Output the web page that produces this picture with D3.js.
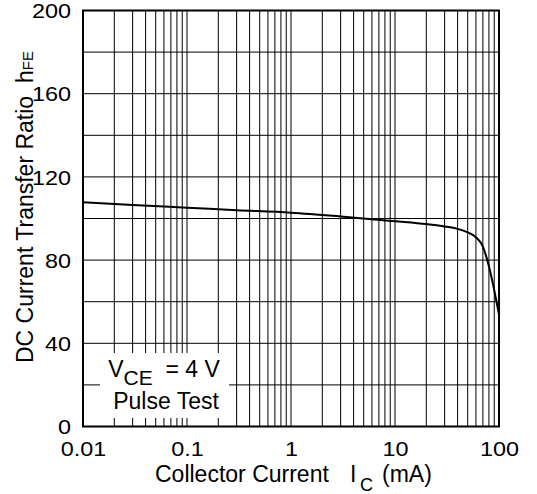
<!DOCTYPE html>
<html>
<head>
<meta charset="utf-8">
<script src="https://cdn.jsdelivr.net/npm/d3@7"></script>
<style>
  html, body { margin: 0; padding: 0; background: #fff; }
  text { font-family: "Liberation Sans", Arial, sans-serif; fill: #000; white-space: pre; }
</style>
</head>
<body>
<svg id="chart" width="537" height="494"></svg>
<script>
// Collector current (mA) and DC current transfer ratio hFE
const collectorCurrent = [0.01, 0.03, 0.1, 0.3, 1, 3, 10, 20, 30, 40, 50, 60, 70, 80, 90, 100];
const hfeValues        = [107.8, 106.5, 105.2, 104, 102.8, 101, 98.7, 97.3, 96.2, 95, 93.3, 91, 86.5, 77, 65.5, 53.8];

const xTickValues = [0.01, 0.1, 1, 10, 100];
const xTickLabels = ["0.01", "0.1", "1", "10", "100"];
const yTickValues = [0, 40, 80, 120, 160, 200];

const svg = d3.select("#chart");
const plot = { left: 83, right: 499, top: 10.5, bottom: 426.5 };

const x = d3.scaleLog().domain([0.01, 100]).range([plot.left, plot.right]);
const y = d3.scaleLinear().domain([0, 200]).range([plot.bottom, plot.top]);

// vertical grid: 1..9 in every decade
const xGrid = [];
for (let e = -2; e < 2; e++) {
  for (let m = 1; m <= 9; m++) xGrid.push(m * Math.pow(10, e));
}
const yGrid = d3.range(20, 200, 20);

const grid = svg.append("g").attr("stroke", "#000").attr("stroke-width", 1);
grid.selectAll("line.v").data(xGrid.filter(v => v > 0.01)).join("line")
  .attr("x1", d => x(d)).attr("x2", d => x(d))
  .attr("y1", plot.top).attr("y2", plot.bottom);
grid.selectAll("line.h").data(yGrid).join("line")
  .attr("x1", plot.left).attr("x2", plot.right)
  .attr("y1", d => y(d)).attr("y2", d => y(d));

// condition label box over the grid
const box = svg.append("g");
box.append("rect")
  .attr("x", 100).attr("y", 353).attr("width", 129).attr("height", 65)
  .attr("fill", "#fff");
const t1 = box.append("text").attr("x", 164).attr("y", 377)
  .attr("text-anchor", "middle").attr("font-size", 23);
t1.append("tspan").text("V");
t1.append("tspan").attr("dy", 8).attr("font-size", 21).text("CE");
t1.append("tspan").attr("dy", -8).text("  = 4 V");
box.append("text").attr("x", 166).attr("y", 409)
  .attr("text-anchor", "middle").attr("font-size", 23).text("Pulse Test");

// hFE curve
const line = d3.line()
  .x((d, i) => x(collectorCurrent[i]))
  .y(d => y(d))
  .curve(d3.curveMonotoneX);
svg.append("path").datum(hfeValues)
  .attr("d", line)
  .attr("fill", "none").attr("stroke", "#000").attr("stroke-width", 2);

// frame
svg.append("rect")
  .attr("x", plot.left).attr("y", plot.top)
  .attr("width", plot.right - plot.left).attr("height", plot.bottom - plot.top)
  .attr("fill", "none").attr("stroke", "#000").attr("stroke-width", 2);

// tick labels use wide digits: stretch glyphs horizontally
function widenDigits(sel) {
  sel.each(function () {
    const w = this.getComputedTextLength();
    d3.select(this).attr("textLength", w * 1.17).attr("lengthAdjust", "spacingAndGlyphs");
  });
}

// axes (labels only)
const xAxis = d3.axisBottom(x).tickValues(xTickValues)
  .tickFormat((d, i) => xTickLabels[i]).tickSize(0).tickPadding(15);
const gx = svg.append("g").attr("transform", `translate(0,${plot.bottom})`).call(xAxis);
gx.select(".domain").remove();
gx.selectAll("text").attr("font-size", 20).attr("font-family", null).call(widenDigits);

const yAxis = d3.axisLeft(y).tickValues(yTickValues).tickSize(0).tickPadding(12);
const gy = svg.append("g").attr("transform", `translate(${plot.left},0)`).call(yAxis);
gy.select(".domain").remove();
gy.selectAll("text").attr("font-size", 20).attr("font-family", null).attr("dy", "0.36em")
  .call(widenDigits);

// axis titles
const xt = svg.append("text").attr("y", 482).attr("font-size", 23);
xt.append("tspan").attr("x", 155).text("Collector Current");
xt.append("tspan").attr("x", 350).text("I");
xt.append("tspan").attr("x", 360).attr("dy", 9).attr("font-size", 18).text("C");
xt.append("tspan").attr("x", 382).attr("dy", -9).text("(mA)");

const yt = svg.append("text")
  .attr("transform", "translate(33,363) rotate(-90)")
  .attr("font-size", 23);
yt.append("tspan").text("DC Current Transfer Ratio  h");
yt.append("tspan").attr("font-size", 15).text("FE");
</script>
</body>
</html>
